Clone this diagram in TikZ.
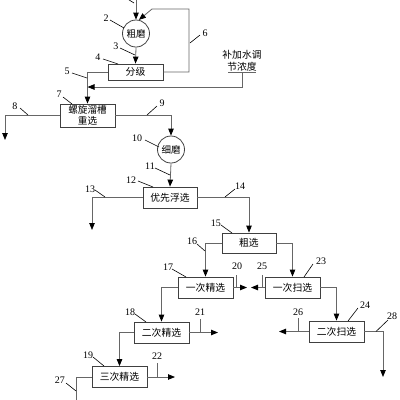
\documentclass[tikz,border=0pt]{standalone}
\usepackage{fontspec}
\setmainfont{Liberation Serif}
\newfontfamily\cjk{Noto Sans CJK SC}
\usetikzlibrary{arrows.meta}
\tikzset{
  ln/.style={draw=black!60, line width=0.8pt},
  arr/.style={ln, -{Triangle[length=7pt,width=5.5pt,color=black]}},
  boxn/.style={draw=black!75, line width=0.8pt, minimum width=55pt, minimum height=21pt, inner sep=0pt, font=\cjk\fontsize{9.8}{11}\selectfont, align=center},
  mill/.style={draw=black!75, line width=0.8pt, circle, minimum size=27pt, inner sep=0pt, font=\cjk\fontsize{9.5}{11}\selectfont},
  num/.style={font=\fontsize{10}{10}\selectfont, inner sep=0pt},
  lead/.style={draw=black, line width=0.6pt},
  tick/.style={draw=black!60, line width=0.8pt}
}
\begin{document}
\begin{tikzpicture}[x=1pt,y=-1pt]
\useasboundingbox (0,0) rectangle (400,400);
% process nodes
\node[mill] (cm) at (136,33.5) {粗磨};
\node[boxn, minimum height=16pt] (fj) at (135.5,72) {分级};
\node[boxn, minimum height=23pt, font=\cjk\fontsize{9.6}{10.8}\selectfont] (lx) at (87.5,115.5) {螺旋溜槽\\重选};
\node[mill] (xm) at (171,149.5) {细磨};
\node[boxn, minimum width=54pt] (yx) at (170,197.5) {优先浮选};
\node[boxn, minimum width=54pt, minimum height=20pt] (cx) at (249,243) {粗选};
\node[boxn] (jx1) at (205.5,287.5) {一次精选};
\node[boxn] (sx1) at (292.5,287.5) {一次扫选};
\node[boxn] (sx2) at (336.5,331.5) {二次扫选};
\node[boxn] (jx2) at (161.5,332.5) {二次精选};
\node[boxn] (jx3) at (119.5,377) {三次精选};
\node[font=\cjk\fontsize{9.8}{12.5}\selectfont, align=center, inner sep=0pt] (water) at (242,61) {补加水调\\节浓度};
% coordinates
\coordinate (in1) at (136,0);
\coordinate (r6a) at (189,9);
\coordinate (r6b) at (152,9);
\coordinate (wa) at (228,72.5);
\coordinate (wb) at (256,72.5);
\coordinate (wc) at (242,72.5);
\coordinate (wd) at (87.5,87);
\coordinate (o8) at (5,140);
\coordinate (o13) at (92,230);
\coordinate (o20) at (247,287.5);
\coordinate (o25) at (251,287.5);
\coordinate (o26) at (279,331.5);
\coordinate (o28) at (383,377);
\coordinate (o21) at (218,332.5);
\coordinate (o22) at (175,377);
\coordinate (o27) at (76,401);
% connectors
\draw[arr] (in1) -- (cm.north);
\draw[arr] (fj.east) -| (r6a) -- (r6b) -- (cm.78);
\draw[arr] (cm.south) -- (fj.north);
\draw[arr] (fj.west) -| (lx.north);
\draw[ln] (wa) -- (wb);
\draw[arr] (wc) |- (wd);
\draw[arr] (lx.west) -| (o8);
\draw[arr] (lx.east) -| (xm.north);
\draw[arr] (xm.south) -- (yx.north);
\draw[arr] (yx.west) -| (o13);
\draw[arr] (yx.east) -| (cx.north);
\draw[arr] (cx.west) -| (jx1.north);
\draw[arr] (cx.east) -| (sx1.north);
\draw[arr] (jx1.east) -- (o20);
\draw[arr] (sx1.west) -- (o25);
\draw[arr] (sx1.east) -| (sx2.north);
\draw[arr] (sx2.west) -- (o26);
\draw[arr] (sx2.east) -| (o28);
\draw[arr] (jx1.west) -| (jx2.north);
\draw[arr] (jx2.east) -- (o21);
\draw[arr] (jx2.west) -| (jx3.north);
\draw[arr] (jx3.east) -- (o22);
\draw[ln] (jx3.west) -| (o27);
% ticks
\draw[tick] (236,275) -- (236,287.5);
\draw[tick] (262,275) -- (262,287.5);
\draw[tick] (298,318) -- (298,331.5);
\draw[tick] (200,319) -- (200,332.5);
\draw[tick] (157,363) -- (157,377);
% labels
\node[num] (n2) at (106,18.5) {2};
\node[num] (n3) at (116,46) {3};
\node[num] (n4) at (98,57) {4};
\node[num] (n5) at (67,71) {5};
\node[num] (n6) at (205,33) {6};
\node[num] (n7) at (59,94) {7};
\node[num] (n8) at (15,106) {8};
\node[num] (n9) at (162,103) {9};
\node[num] (n10) at (137,138) {10};
\node[num] (n11) at (150,166) {11};
\node[num] (n12) at (131,180) {12};
\node[num] (n13) at (90,189) {13};
\node[num] (n14) at (240,186) {14};
\node[num] (n15) at (216,223) {15};
\node[num] (n16) at (192,241) {16};
\node[num] (n17) at (168,267) {17};
\node[num] (n20) at (237,266) {20};
\node[num] (n25) at (262,266) {25};
\node[num] (n23) at (321,261) {23};
\node[num] (n24) at (365,305) {24};
\node[num] (n26) at (298,312) {26};
\node[num] (n28) at (392,316) {28};
\node[num] (n18) at (130,312) {18};
\node[num] (n21) at (200,312) {21};
\node[num] (n19) at (88,355) {19};
\node[num] (n22) at (157,356) {22};
\node[num] (n27) at (60,380) {27};
% leaders
\draw[lead] (126,-2) -- (134,3);
\draw[lead] (110,20) -- (124,28);
\draw[lead] (120,48) -- (135,55);
\draw[lead] (103,59) -- (118,64);
\draw[lead] (72,73) -- (87,78);
\draw[lead] (190,43) -- (200,35);
\draw[lead] (63,97) -- (72,104);
\draw[lead] (20,108) -- (28,115);
\draw[lead] (157,106) -- (147,115);
\draw[lead] (145,140) -- (159,147);
\draw[lead] (155,168) -- (170,175);
\draw[lead] (138,181) -- (153,187);
\draw[lead] (95,190) -- (105,197);
\draw[lead] (235,189) -- (225,197);
\draw[lead] (221,225) -- (232,233);
\draw[lead] (197,244) -- (205,251);
\draw[lead] (172,269) -- (186,277);
\draw[lead] (313,264) -- (304,277);
\draw[lead] (358,308) -- (348,321);
\draw[lead] (388,320) -- (376,331.5);
\draw[lead] (135,314) -- (146,322);
\draw[lead] (93,357) -- (104,366);
\draw[lead] (66,383) -- (76,391);
\end{tikzpicture}
\end{document}
